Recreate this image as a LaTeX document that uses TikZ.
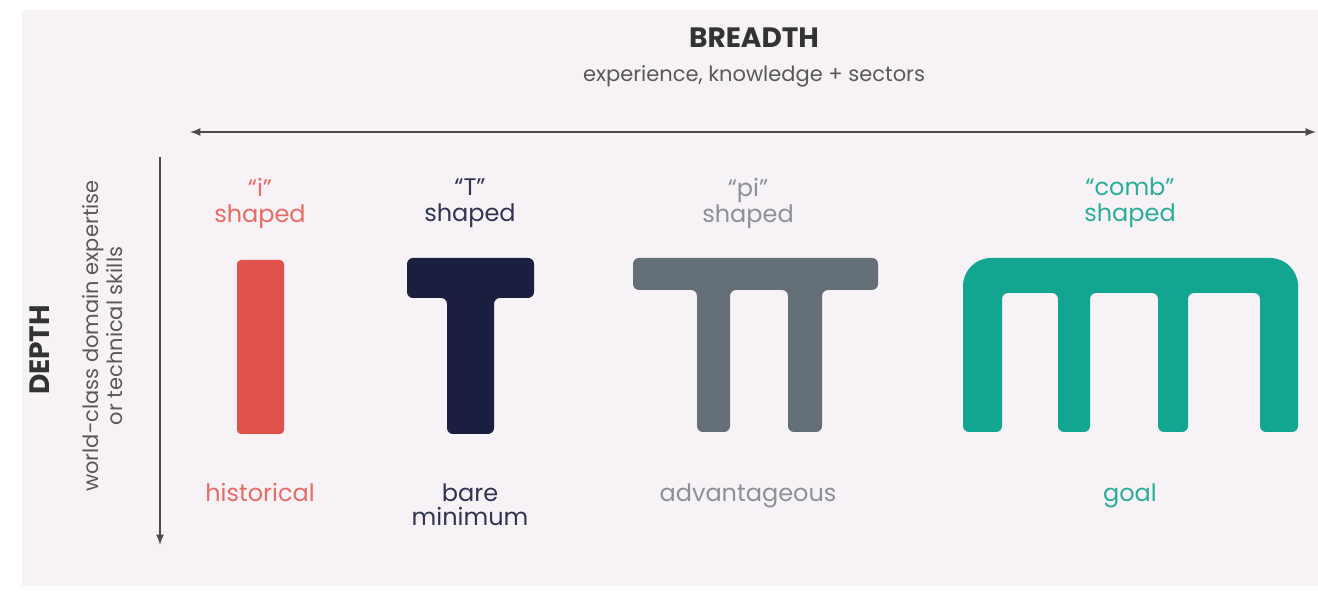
\documentclass[tikz,border=0pt]{standalone}
\usepackage{fontspec}
\setmainfont{Poppins}
\usetikzlibrary{positioning}

\definecolor{panel}{HTML}{F6F2F5}
\definecolor{axis}{HTML}{4A4A4A}
\definecolor{ired}{HTML}{E0534A}
\definecolor{tnavy}{HTML}{1B1F3F}
\definecolor{pigray}{HTML}{636E77}
\definecolor{combteal}{HTML}{12A58F}

\begin{document}
\begin{tikzpicture}[x=0.5pt, y=-0.5pt]
\tikzset{
    axisarrow/.style = {latex-latex, thick, draw=axis},
    toplabel/.style = {align=center, font=\fontsize{12}{13}\selectfont, inner sep=0pt},
    botlabel/.style = {align=center, font=\fontsize{12}{12}\selectfont, inner sep=0pt, anchor=north}
}
\useasboundingbox (0,0) rectangle (1318,592);
\fill[white] (0,0) rectangle (1318,592);
\fill[panel] (22,10) rectangle (1318,586);

% axes
\node[font=\bfseries\fontsize{14}{14}\selectfont, text=black!80] (breadth) at (754,38) {BREADTH};
\node[font=\fontsize{10.5}{12}\selectfont, text=black!65] (bsub) at (754,76) {experience, knowledge + sectors};
\coordinate (hl) at (190,132);
\coordinate (hr) at (1316,132);
\draw[axisarrow] (hl) -- (hr);

\node[font=\bfseries\fontsize{14}{14}\selectfont, text=black!80, rotate=90] (depth) at (40,350) {DEPTH};
\node[font=\fontsize{10.5}{12}\selectfont, text=black!65, rotate=90, align=center] (dsub) at (103,336) {world-class domain expertise\\or technical skills};
\coordinate (vt) at (160,157);
\coordinate (vb) at (160,545);
\draw[-latex, thick, draw=axis] (vt) -- (vb);

% shapes
\fill[ired, rounded corners=2pt] (237,260) rectangle (284,434);

\fill[tnavy, rounded corners=3pt] (407,258) -- (534,258) -- (534,298) -- (494,298)
    -- (494,434) -- (447,434) -- (447,298) -- (407,298) -- cycle;

\fill[pigray, rounded corners=3pt] (633,258) -- (878,258) -- (878,290) -- (822,290)
    -- (822,432) -- (788,432) -- (788,290) -- (730,290) -- (730,432) -- (697,432)
    -- (697,290) -- (633,290) -- cycle;

\fill[combteal] (963,432) [rounded corners=14pt] -- (963,258) -- (1298,258)
    [rounded corners=3pt] -- (1298,432) -- (1260,432) -- (1260,293) -- (1188,293)
    -- (1188,432) -- (1158,432) -- (1158,293) -- (1090,293) -- (1090,432)
    -- (1058,432) -- (1058,293) -- (1002,293) -- (1002,432) -- cycle;

% labels
\node[toplabel, text=ired!85] (ilab) at (260,203) {“i”\\shaped};
\node[toplabel, text=tnavy!90] (tlab) at (470,203) {“T”\\shaped};
\node[toplabel, text=pigray!75] (pilab) at (748,203) {“pi”\\shaped};
\node[toplabel, text=combteal!90] (comblab) at (1130,203) {“comb”\\shaped};

\node[botlabel, text=ired!85] (ibot) at (260,483) {historical};
\node[botlabel, text=tnavy!90] (tbot) at (470,483) {bare\\minimum};
\node[botlabel, text=pigray!75] (pibot) at (748,483) {advantageous};
\node[botlabel, text=combteal!90] (combbot) at (1130,483) {goal};
\end{tikzpicture}
\end{document}
